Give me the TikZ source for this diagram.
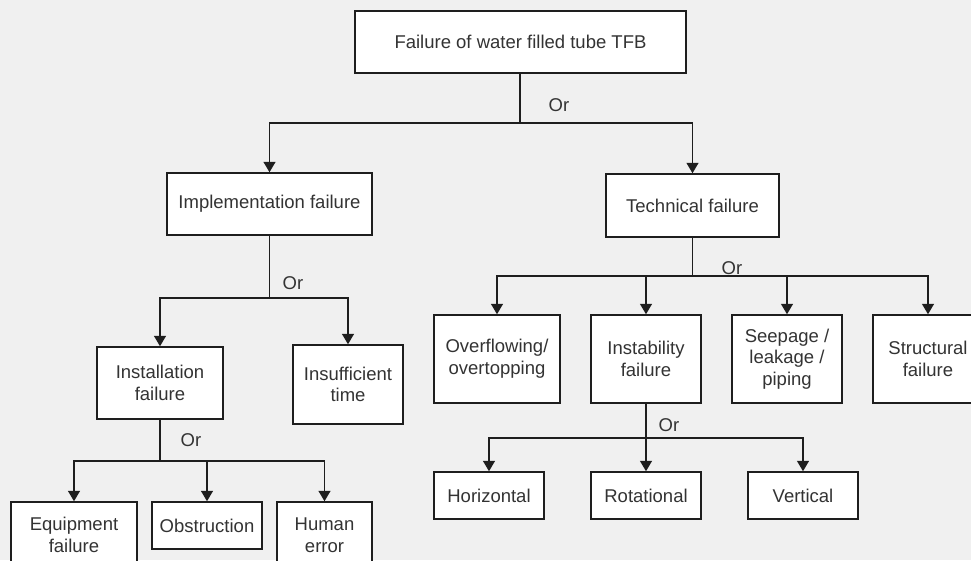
\documentclass[tikz,border=0pt]{standalone}
\usepackage{fontspec}
\setmainfont{Liberation Sans}
\usetikzlibrary{arrows.meta}
\definecolor{bg}{HTML}{F0F0F0}
\definecolor{ln}{HTML}{1E1E1E}
\definecolor{tx}{HTML}{333333}
\begin{document}
\begin{tikzpicture}[x=1pt,y=-1pt,
  box/.style={draw=ln,fill=white,line width=1.5pt,rectangle,inner sep=0pt,align=center,
    text=tx,font=\fontsize{18.5}{21.7}\selectfont},
  conn/.style={draw=ln,line width=1.5pt},
  arr/.style={conn,-{Triangle[length=10.5pt,width=12pt]}},
  orlab/.style={text=tx,font=\fontsize{18.5}{21.7}\selectfont,inner sep=0pt}]
\fill[bg] (0,0) rectangle (971,560);
\useasboundingbox (0,0) rectangle (971,560);
\begin{scope}
\clip (0,0) rectangle (971,560);
% boxes
\node[box,minimum width=331pt,minimum height=62pt] (top) at (520.5,42) {Failure of water filled tube TFB};
\node[box,minimum width=205pt,minimum height=62pt] (impl) at (269.5,204) {Implementation failure};
\node[box,minimum width=173pt,minimum height=63pt] (tech) at (692.5,205.5) {Technical failure};
\node[box,minimum width=126pt,minimum height=72pt] (inst) at (160,383) {Installation\\failure};
\node[box,minimum width=110pt,minimum height=79pt] (insuf) at (348,384.5) {Insufficient\\time};
\node[box,minimum width=126pt,minimum height=88pt] (over) at (497,359) {Overflowing/\\overtopping};
\node[box,minimum width=110pt,minimum height=88pt] (instab) at (646,359) {Instability\\failure};
\node[box,minimum width=110pt,minimum height=88pt] (seep) at (787,359) {Seepage /\\leakage /\\piping};
\node[box,minimum width=110pt,minimum height=88pt] (struct) at (928,359) {Structural\\failure};
\node[box,minimum width=110pt,minimum height=47pt] (horiz) at (489,495.5) {Horizontal};
\node[box,minimum width=110pt,minimum height=47pt] (rot) at (646,495.5) {Rotational};
\node[box,minimum width=110pt,minimum height=47pt] (vert) at (803,495.5) {Vertical};
\node[box,minimum width=126pt,minimum height=66pt] (equip) at (74,535) {Equipment\\failure};
\node[box,minimum width=110pt,minimum height=47pt] (obst) at (207,525.5) {Obstruction};
\node[box,minimum width=95pt,minimum height=66pt] (human) at (324.5,535) {Human\\error};
% junctions
\coordinate (j1) at (520,123);
\coordinate (j2) at (269.5,298);
\coordinate (j3) at (692.5,276);
\coordinate (j4) at (160,461);
\coordinate (j5) at (646,438);
% connectors
\draw[conn] (top.south -| j1) -- (j1);
\draw[arr] (j1) -| (impl.north);
\draw[arr] (j1) -| (tech.north);
\draw[conn] (impl.south) -- (j2);
\draw[arr] (j2) -| (inst.north);
\draw[arr] (j2) -| (insuf.north);
\draw[conn] (tech.south) -- (j3);
\draw[arr] (j3) -| (over.north);
\draw[arr] (j3) -| (instab.north);
\draw[arr] (j3) -| (seep.north);
\draw[arr] (j3) -| (struct.north);
\draw[conn] (inst.south) -- (j4);
\draw[arr] (j4) -| (equip.north);
\draw[arr] (j4) -| (obst.north);
\draw[arr] (j4) -| (human.north);
\draw[conn] (instab.south) -- (j5);
\draw[arr] (j5) -| (horiz.north);
\draw[arr] (j5) -- (rot.north);
\draw[arr] (j5) -| (vert.north);
% Or labels
\node[orlab] (or1) at (559,105) {Or};
\node[orlab] (or2) at (293,283) {Or};
\node[orlab] (or3) at (732,268) {Or};
\node[orlab] (or4) at (191,440) {Or};
\node[orlab] (or5) at (669,425) {Or};
\end{scope}
\end{tikzpicture}
\end{document}
